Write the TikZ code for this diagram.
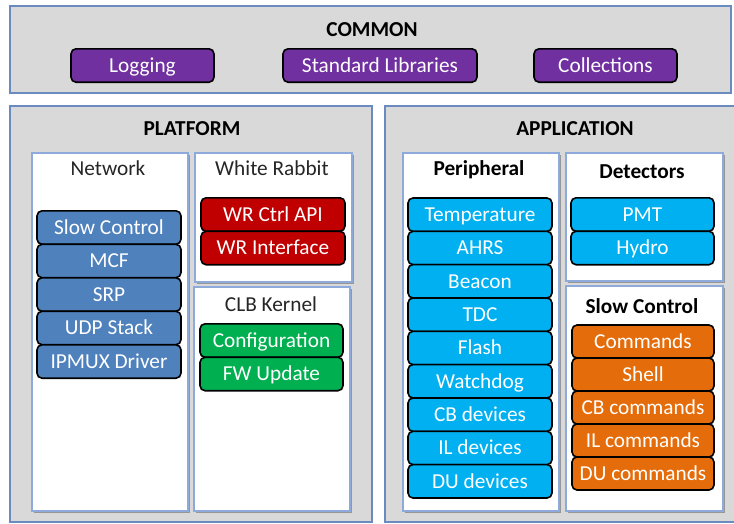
\documentclass[tikz,border=0pt]{standalone}
\usepackage{fontspec}
\setmainfont{Carlito}
\usetikzlibrary{shadows}
\definecolor{panelgray}{HTML}{D9D9D9}
\definecolor{panelborder}{HTML}{6A8BBF}
\definecolor{subborder}{HTML}{8EAADB}
\definecolor{cpurple}{HTML}{7030A0}
\definecolor{cblue}{HTML}{4F81BD}
\definecolor{cred}{HTML}{C00000}
\definecolor{cgreen}{HTML}{00B050}
\definecolor{ccyan}{HTML}{00B0F0}
\definecolor{corange}{HTML}{E46C0A}
\definecolor{labelgray}{HTML}{262626}
\begin{document}
\begin{tikzpicture}[x=1pt,y=-1pt,
  every node/.style={font=\fontsize{21.3}{25}\selectfont, text height=13.7pt, text depth=0pt},
  panel/.style={draw=panelborder, line width=2pt, fill=panelgray, anchor=north west, inner sep=0pt},
  subpanel/.style={draw=subborder, line width=1.8pt, fill=white, anchor=north west, inner sep=0pt,
    drop shadow={shadow xshift=2.5pt, shadow yshift=-2.5pt, fill=black, opacity=0.3}},
  btn/.style={draw=black, line width=1.6pt, rounded corners=5pt, text=white, inner sep=0pt, minimum height=33.4pt},
  headline/.style={font=\fontsize{21.3}{25}\selectfont\bfseries, text=black},
  plainlabel/.style={text=labelgray},
  boldlabel/.style={font=\fontsize{21.3}{25}\selectfont\bfseries, text=black}]
\useasboundingbox (0,0) rectangle (734,523);
% panels
\node[panel, minimum width=721pt, minimum height=87pt] (common) at (9,5) {};
\node[panel, minimum width=362pt, minimum height=416pt] (platform) at (9,105) {};
\node[panel, minimum width=352pt, minimum height=416pt] (application) at (384,105) {};
\node[headline] (commonT) at (372,30) {COMMON};
\node[headline] (platformT) at (192,129) {PLATFORM};
\node[headline] (applicationT) at (575,129) {APPLICATION};
% common buttons
\node[btn, fill=cpurple, minimum width=143pt] (logging) at (142.5,65.5) {Logging};
\node[btn, fill=cpurple, minimum width=194pt] (stdlib) at (380,65.5) {Standard Libraries};
\node[btn, fill=cpurple, minimum width=143pt] (collections) at (605.5,65.5) {Collections};
% sub panels
\node[subpanel, minimum width=156pt, minimum height=358pt] (network) at (31,152) {};
\node[subpanel, minimum width=157pt, minimum height=129pt] (wr) at (194,152) {};
\node[subpanel, minimum width=156pt, minimum height=224pt] (clb) at (193,286) {};
\node[subpanel, minimum width=156pt, minimum height=358pt] (periph) at (402,152) {};
\node[subpanel, minimum width=157pt, minimum height=128pt] (detect) at (565,152) {};
\node[subpanel, minimum width=157pt, minimum height=225pt] (slowctl) at (565,285) {};
% sub panel labels
\node[plainlabel] (networkT) at (108,169) {Network};
\node[plainlabel] (wrT) at (272,169) {White Rabbit};
\node[plainlabel] (clbT) at (271,305) {CLB Kernel};
\node[boldlabel] (periphT) at (479,169) {Peripheral};
\node[boldlabel] (detectT) at (642,172) {Detectors};
\node[boldlabel] (slowctlT) at (642,307) {Slow Control};
% network
\node[btn, fill=cblue, minimum width=144pt] (sc) at (109,227.5) {Slow Control};
\node[btn, fill=cblue, minimum width=144pt] (mcf) at (109,261) {MCF};
\node[btn, fill=cblue, minimum width=144pt] (srp) at (109,294.5) {SRP};
\node[btn, fill=cblue, minimum width=144pt] (udp) at (109,328) {UDP Stack};
\node[btn, fill=cblue, minimum width=144pt] (ipmux) at (109,361.5) {IPMUX Driver};
% white rabbit
\node[btn, fill=cred, minimum width=144pt] (wrapi) at (273,214.5) {WR Ctrl API};
\node[btn, fill=cred, minimum width=144pt] (wrif) at (273,248) {WR Interface};
% clb kernel
\node[btn, fill=cgreen, minimum width=143pt] (config) at (271.5,340.5) {Configuration};
\node[btn, fill=cgreen, minimum width=143pt] (fwup) at (271.5,374) {FW Update};
% peripheral
\node[btn, fill=ccyan, minimum width=144pt] (temp) at (480,214.7) {Temperature};
\node[btn, fill=ccyan, minimum width=144pt] (ahrs) at (480,248) {AHRS};
\node[btn, fill=ccyan, minimum width=144pt] (beacon) at (480,281.3) {Beacon};
\node[btn, fill=ccyan, minimum width=144pt] (tdc) at (480,314.7) {TDC};
\node[btn, fill=ccyan, minimum width=144pt] (flash) at (480,348) {Flash};
\node[btn, fill=ccyan, minimum width=144pt] (watchdog) at (480,381.3) {Watchdog};
\node[btn, fill=ccyan, minimum width=144pt] (cbdev) at (480,414.7) {CB devices};
\node[btn, fill=ccyan, minimum width=144pt] (ildev) at (480,448) {IL devices};
\node[btn, fill=ccyan, minimum width=144pt] (dudev) at (480,481.3) {DU devices};
% detectors
\node[btn, fill=ccyan, minimum width=143pt] (pmt) at (642.5,214.5) {PMT};
\node[btn, fill=ccyan, minimum width=143pt] (hydro) at (642.5,248) {Hydro};
% slow control
\node[btn, fill=corange, minimum width=142pt, minimum height=33pt] (commands) at (643,341.5) {Commands};
\node[btn, fill=corange, minimum width=142pt, minimum height=33pt] (shell) at (643,374.5) {Shell};
\node[btn, fill=corange, minimum width=142pt, minimum height=33pt] (cbcmd) at (643,407.5) {CB commands};
\node[btn, fill=corange, minimum width=142pt, minimum height=33pt] (ilcmd) at (643,440.5) {IL commands};
\node[btn, fill=corange, minimum width=142pt, minimum height=33pt] (ducmd) at (643,473.5) {DU commands};
\end{tikzpicture}
\end{document}
